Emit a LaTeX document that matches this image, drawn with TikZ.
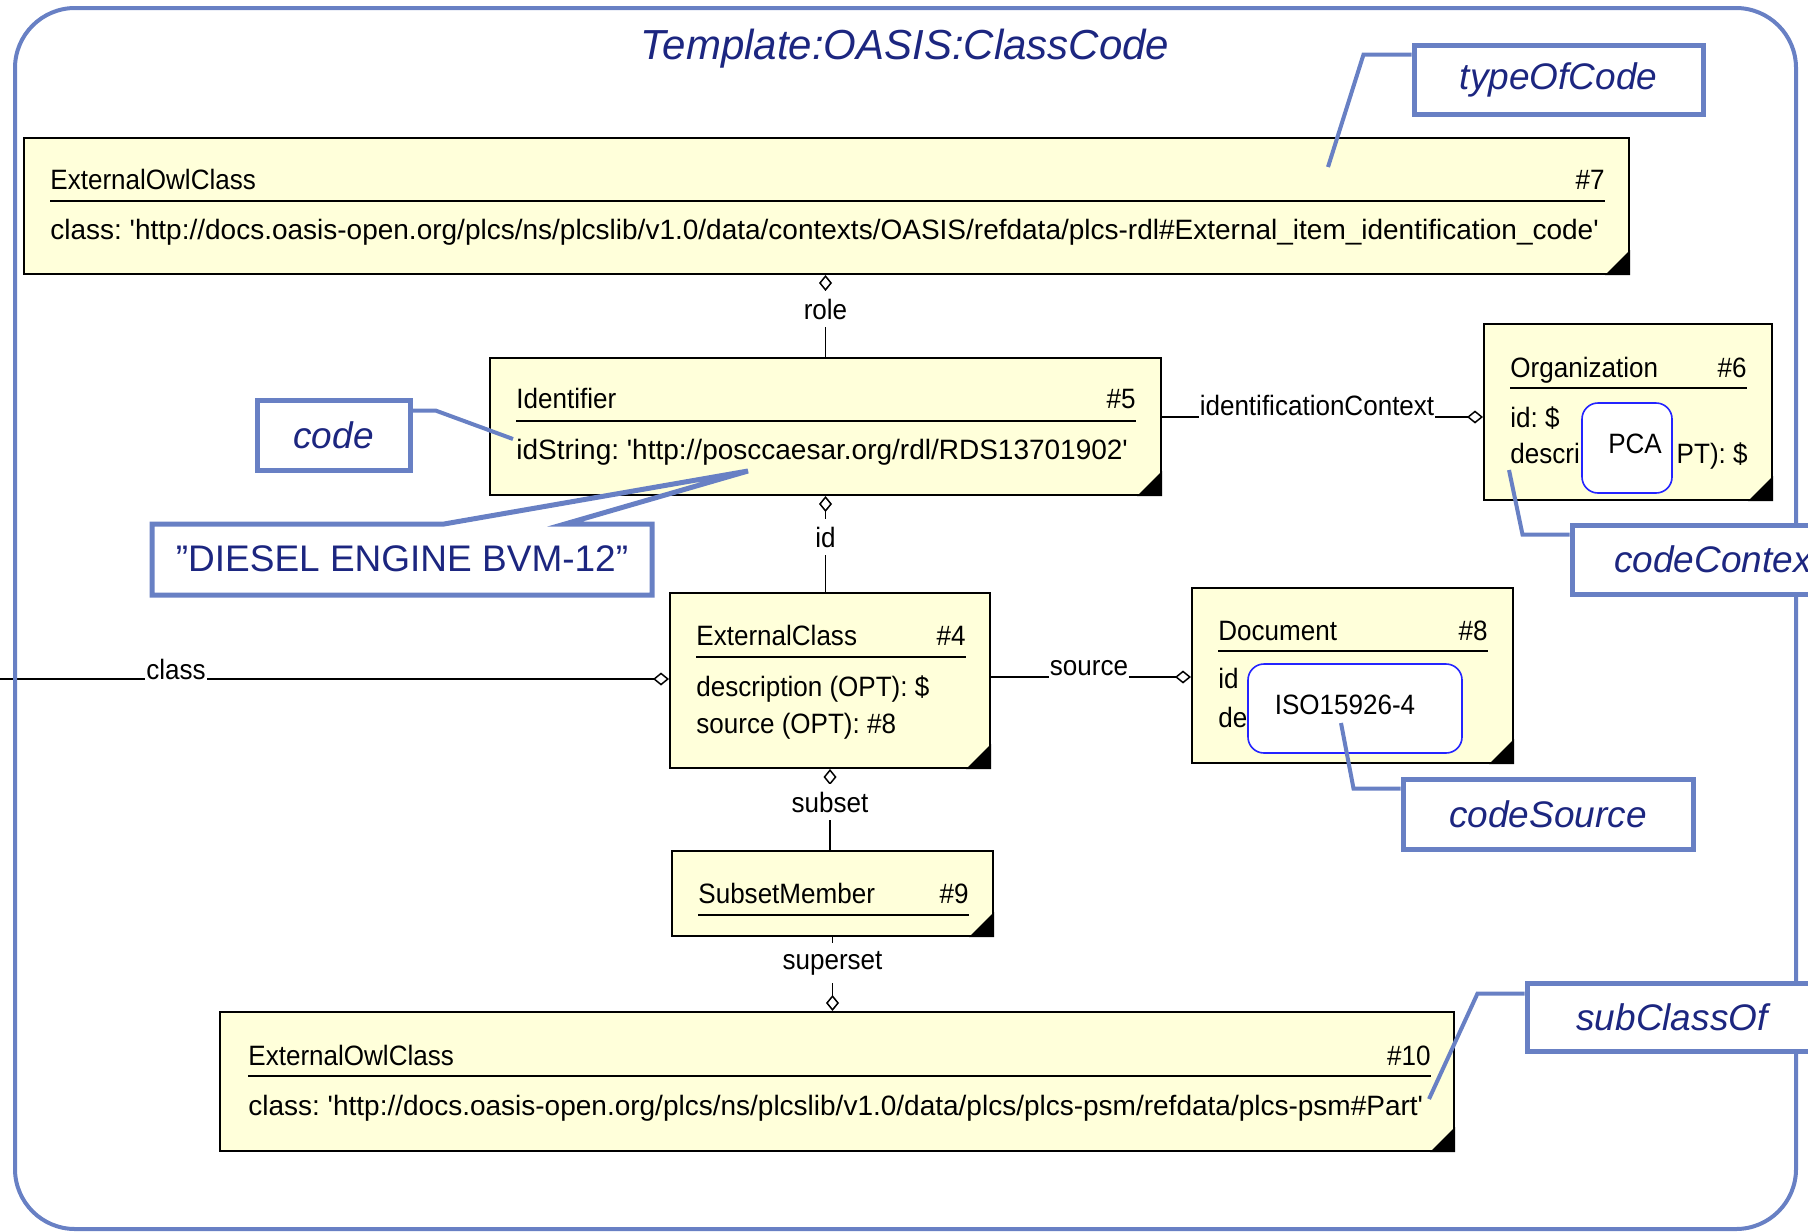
\documentclass[tikz,border=0pt]{standalone}
\usepackage{fontspec}
\setmainfont{Liberation Sans}
\newfontfamily\umlfont[FakeStretch=0.93,Ligatures=TeXOff]{Liberation Sans}
\newfontfamily\umlwide[Ligatures=TeXOff]{Liberation Sans}
\usetikzlibrary{arrows.meta,fit}

\definecolor{frameblue}{RGB}{104,128,196}
\definecolor{navy}{RGB}{28,38,128}
\definecolor{umlfill}{RGB}{255,255,218}
\definecolor{markblue}{RGB}{36,36,255}

\tikzset{
  umlbox/.style={draw=black, line width=1pt, fill=umlfill, inner sep=0pt},
  umltxt/.style={font=\umlfont\fontsize{14}{16}\selectfont\frenchspacing, text=black, inner sep=0pt},
  umlurl/.style={font=\umlwide\fontsize{14}{16}\selectfont\frenchspacing, text=black, inner sep=0pt},
  sepline/.style={line width=1pt},
  conn/.style={line width=0.75pt},
  diastart/.style={conn, arrows={Diamond[open,length=8pt,width=6.5pt]-}},
  diaend/.style={conn, arrows={-Diamond[open,length=8pt,width=6.5pt]}},
  vlab/.style={umltxt, fill=white, inner xsep=1pt, inner ysep=4pt, anchor=base},
  hlab/.style={umltxt, fill=white, inner xsep=0.5pt, inner ysep=2pt, anchor=base},
  maskbox/.style={draw=markblue, line width=0.8pt, fill=white, rounded corners=8pt, inner sep=0pt},
  outerframe/.style={draw=frameblue, line width=2pt, rounded corners=30pt},
  callbox/.style={draw=frameblue, line width=2.5pt, fill=white, inner sep=0pt,
    font=\fontsize{18.5}{22}\selectfont\itshape, text=navy},
  calltxt/.style={font=\fontsize{18.5}{22}\selectfont, text=navy, inner sep=0pt},
  leader/.style={draw=frameblue, line width=2pt},
  titletxt/.style={font=\fontsize{21}{25}\selectfont\itshape, text=navy, inner sep=0pt},
}

\begin{document}
\begin{tikzpicture}[x=0.5pt,y=-0.5pt]
\useasboundingbox (0,0) rectangle (1808,1231);
\clip (0,0) rectangle (1808,1231);

% title
\node[titletxt, anchor=base] (title) at (905,59) {Template:OASIS:ClassCode};

% ---- class boxes ----
% #7 ExternalOwlClass
\node[umlbox, fit={(24,138) (1629,274)}] (b7) {};
\fill (b7.south east) -- ++(0,-25) -- ++(-25,25) -- cycle;
\node[umltxt, anchor=base west] (b7h) at (50,189) {ExternalOwlClass};
\node[umltxt, anchor=base east] (b7n) at (1605,189) {\#7};
\draw[sepline] (50,201) -- (1605,201);
\node[umlurl, anchor=base west] (b7a) at (50,239) {class: 'http://docs.oasis-open.org/plcs/ns/plcslib/v1.0/data/contexts/OASIS/refdata/plcs-rdl\#External\_item\_identification\_code'};

% #5 Identifier
\node[umlbox, fit={(490,358) (1161,495)}] (b5) {};
\fill (b5.south east) -- ++(0,-25) -- ++(-25,25) -- cycle;
\node[umltxt, anchor=base west] (b5h) at (516,408) {Identifier};
\node[umltxt, anchor=base east] (b5n) at (1136,408) {\#5};
\draw[sepline] (516,421) -- (1136,421);
\node[umlurl, anchor=base west] (b5a) at (516,459) {idString: 'http://posccaesar.org/rdl/RDS13701902'};

% #6 Organization
\node[umlbox, fit={(1484,324) (1772,500)}] (b6) {};
\fill (b6.south east) -- ++(0,-25) -- ++(-25,25) -- cycle;
\node[umltxt, anchor=base west] (b6h) at (1510,377) {Organization};
\node[umltxt, anchor=base east] (b6n) at (1747,377) {\#6};
\draw[sepline] (1510,388) -- (1747,388);
\node[umltxt, anchor=base west] (b6a) at (1510,427) {id: \$};
\node[umltxt, anchor=base west] (b6b) at (1510,463) {descri};
\node[umltxt, anchor=base east] (b6c) at (1748,463) {PT): \$};

% #4 ExternalClass
\node[umlbox, fit={(670,593) (990,768)}] (b4) {};
\fill (b4.south east) -- ++(0,-25) -- ++(-25,25) -- cycle;
\node[umltxt, anchor=base west] (b4h) at (696,645) {ExternalClass};
\node[umltxt, anchor=base east] (b4n) at (966,645) {\#4};
\draw[sepline] (696,657) -- (966,657);
\node[umltxt, anchor=base west] (b4a) at (696,696) {description (OPT): \$};
\node[umltxt, anchor=base west] (b4b) at (696,733) {source (OPT): \#8};

% #8 Document
\node[umlbox, fit={(1192,588) (1513,763)}] (b8) {};
\fill (b8.south east) -- ++(0,-25) -- ++(-25,25) -- cycle;
\node[umltxt, anchor=base west] (b8h) at (1218,640) {Document};
\node[umltxt, anchor=base east] (b8n) at (1488,640) {\#8};
\draw[sepline] (1218,651) -- (1488,651);
\node[umltxt, anchor=base west] (b8a) at (1218,688) {id};
\node[umltxt, anchor=base west] (b8b) at (1218,727) {de};

% #9 SubsetMember
\node[umlbox, fit={(672,851) (993,936)}] (b9) {};
\fill (b9.south east) -- ++(0,-25) -- ++(-25,25) -- cycle;
\node[umltxt, anchor=base west] (b9h) at (698,903) {SubsetMember};
\node[umltxt, anchor=base east] (b9n) at (969,903) {\#9};
\draw[sepline] (698,915) -- (969,915);

% #10 ExternalOwlClass
\node[umlbox, fit={(220,1012) (1454,1151)}] (b10) {};
\fill (b10.south east) -- ++(0,-25) -- ++(-25,25) -- cycle;
\node[umltxt, anchor=base west] (b10h) at (248,1065) {ExternalOwlClass};
\node[umltxt, anchor=base east] (b10n) at (1431,1065) {\#10};
\draw[sepline] (248,1076) -- (1431,1076);
\node[umlurl, anchor=base west] (b10a) at (248,1115) {class: 'http://docs.oasis-open.org/plcs/ns/plcslib/v1.0/data/plcs/plcs-psm/refdata/plcs-psm\#Part'};

% ---- value marks ----
\node[maskbox, minimum width=45pt, minimum height=45pt] (pca) at (1627,448) {};
\node[umltxt] (pcaT) at (1635,444) {PCA};
\node[maskbox, minimum width=107pt, minimum height=44.5pt] (iso) at (1355,708.5) {};
\node[umltxt] (isoT) at (1345,705) {ISO15926-4};

% ---- relations ----
\draw[diastart] (b5.north |- b7.south) -- (b5.north);
\node[vlab] (lRole) at (825.5,319) {role};
\draw[diastart] (b5.south) -- (b5.south |- b4.north);
\node[vlab] (lId) at (825.5,547) {id};
\draw[diastart] (b4.south) -- (b4.south |- b9.north);
\node[vlab] (lSubset) at (830,812) {subset};
\draw[diaend] (b9.south) -- (b9.south |- b10.north);
\node[vlab] (lSuper) at (832.5,969) {superset};

\coordinate (clsEnd) at (0,679);
\draw[diaend] (clsEnd) -- (clsEnd -| b4.west);
\node[hlab] (lClass) at (176,679) {class};
\coordinate (srcY) at (1090,677);
\draw[diaend] (b4.east |- srcY) -- (b8.west |- srcY);
\node[hlab] (lSource) at (1089,675) {source};
\coordinate (icY) at (1320,417);
\draw[diaend] (b5.east |- icY) -- (b6.west |- icY);
\node[hlab] (lIC) at (1317,415) {identificationContext};

% ---- outer frame ----
\draw[outerframe] (15,8) rectangle (1796,1229);

% ---- annotations ----
\coordinate (tDiesel) at (748,471);
\draw[leader, line width=2.5pt] (152,524) -- (444,524) -- (tDiesel) -- (565,524) -- (652,524) -- (652,595) -- (152,595) -- cycle;
\node[calltxt] (diesel) at (402,559) {”DIESEL ENGINE BVM-12”};

\node[callbox, minimum width=144.5pt, minimum height=34.5pt] (typeOfCode) at (1558.5,79.5) {typeOfCode};
\node[callbox, minimum width=76.5pt, minimum height=35pt] (code) at (333.5,435) {code};
\node[callbox, minimum width=146pt, minimum height=34.5pt] (codeContext) at (1718,559.5) {codeContext};
\node[callbox, minimum width=145pt, minimum height=35pt] (codeSource) at (1548,814) {codeSource};
\node[callbox, minimum width=145pt, minimum height=34pt] (subClassOf) at (1672,1017) {subClassOf};

\coordinate (tTOC) at (1328,167);
\draw[leader] ([yshift=-6pt]typeOfCode.north west) -- ++(-48,0) -- (tTOC);
\coordinate (tCode) at (513,439);
\draw[leader] ([yshift=-6.5pt]code.north east) -- ++(23,0) -- (tCode);
\coordinate (tCtx) at (1509,470);
\draw[leader] ([yshift=-6pt]codeContext.north west) -- ++(-47,0) -- (tCtx);
\coordinate (tSrc) at (1341,723);
\draw[leader] ([yshift=-6pt]codeSource.north west) -- ++(-47,0) -- (tSrc);
\coordinate (tSub) at (1429,1099);
\draw[leader] ([yshift=-6.5pt]subClassOf.north west) -- ++(-47,0) -- (tSub);
\end{tikzpicture}
\end{document}
